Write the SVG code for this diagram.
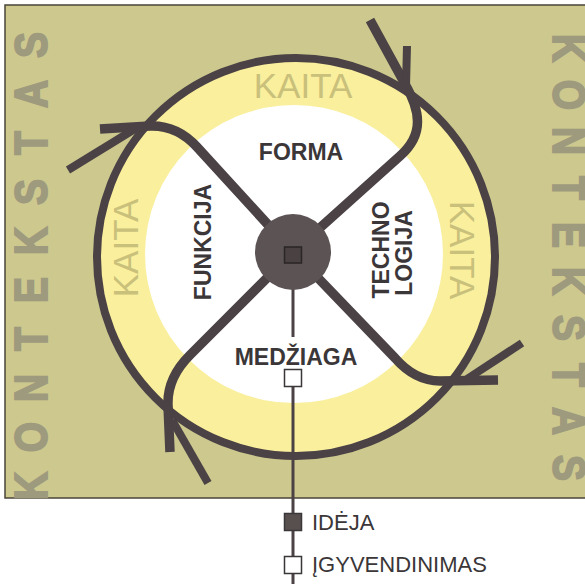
<svg xmlns="http://www.w3.org/2000/svg" width="585" height="584" viewBox="0 0 585 584">
<style>
.ctx{font-family:"Liberation Sans",Arial,sans-serif;font-weight:bold;font-size:39px;fill:#9e9a7e;stroke:#9e9a7e;stroke-width:1.6;text-anchor:middle}
.kaita{font-family:"Liberation Sans",Arial,sans-serif;font-size:35px;fill:#c9c07b;text-anchor:middle}
.lbl{font-family:"Liberation Sans",Arial,sans-serif;font-weight:bold;font-size:23px;fill:#3b3638;text-anchor:middle}
.leg{font-family:"Liberation Sans",Arial,sans-serif;font-size:22px;fill:#3b3638}
.arm{fill:none;stroke:#4b4245;stroke-width:9.5;stroke-linejoin:round}
.barb{fill:none;stroke:#4b4245;stroke-width:8}
.axis{stroke:#4b4245;stroke-width:3}
</style>
<rect x="0" y="0" width="585" height="584" fill="#ffffff"/>
<g id="context">
<rect x="5" y="5" width="582" height="493" fill="#cdc88e" stroke="#4a4338" stroke-width="1.5"/>
<text class="ctx" transform="translate(47,0) rotate(-90) scale(1,1.2)" x="-486 -437 -388 -339 -290 -241 -192 -143 -94 -45" y="0">KONTEKSTAS</text>
<text class="ctx" transform="translate(553,0) rotate(90) scale(1,1.2)" x="48 95 141 188 235 281 328 375 421 468" y="0">KONTEKSTAS</text>
</g>
<g id="change-ring">
<circle cx="296" cy="257" r="199" fill="#faef9d" stroke="#4b4245" stroke-width="8"/>
<circle cx="294" cy="254" r="149" fill="#ffffff"/>
<text class="kaita" x="303" y="98">KAITA</text>
<text class="kaita" transform="translate(138,248) rotate(-90)">KAITA</text>
<text class="kaita" transform="translate(450,250) rotate(90)">KAITA</text>
</g>
<g id="connectors">
<path class="arm" d="M293 252 L197 147 Q177 125 150 126 L100 129"/>
<path class="barb" d="M68 170 L138 127"/>
<path class="arm" d="M293 252 L400 156 C425 134 420 110 405 84 L370 20"/>
<path class="barb" d="M407 46 L406 86"/>
<path class="arm" d="M293 252 L395 358 Q415 381 440 381 L498 380"/>
<path class="barb" d="M522 343 L467 379"/>
<path class="arm" d="M293 252 L190 355 Q167 378 168 405 L170 452"/>
<path class="barb" d="M208 483 L172 420"/>
<line class="axis" x1="293" y1="255" x2="293" y2="337"/>
<line class="axis" x1="293" y1="385" x2="293" y2="584"/>
</g>
<g id="core">
<circle cx="293" cy="252" r="38" fill="#5c5354"/>
<rect x="284.5" y="247" width="17" height="16" fill="#4a4142" stroke="#2a2526" stroke-width="1.5"/>
</g>
<g id="forma"><text class="lbl" x="301" y="160">FORMA</text></g>
<g id="funkcija"><text class="lbl" transform="translate(211,242) rotate(-90)">FUNKCIJA</text></g>
<g id="technologija">
<text class="lbl" transform="translate(389,250) rotate(-90)">TECHNO</text>
<text class="lbl" transform="translate(412,253) rotate(-90)">LOGIJA</text>
</g>
<g id="medziaga">
<text class="lbl" x="296" y="365">MEDŽIAGA</text>
<rect x="284.5" y="369.5" width="17" height="17" fill="#ffffff" stroke="#3b3638" stroke-width="1.5"/>
</g>
<g id="legend-ideja">
<rect x="284.5" y="513.5" width="17" height="17" fill="#58504f" stroke="#3b3638" stroke-width="1.5"/>
<text class="leg" x="312" y="530">IDĖJA</text>
</g>
<g id="legend-igyvendinimas">
<rect x="284.5" y="556.5" width="17" height="17" fill="#ffffff" stroke="#3b3638" stroke-width="1.5"/>
<text class="leg" x="312" y="572">ĮGYVENDINIMAS</text>
</g>
</svg>
